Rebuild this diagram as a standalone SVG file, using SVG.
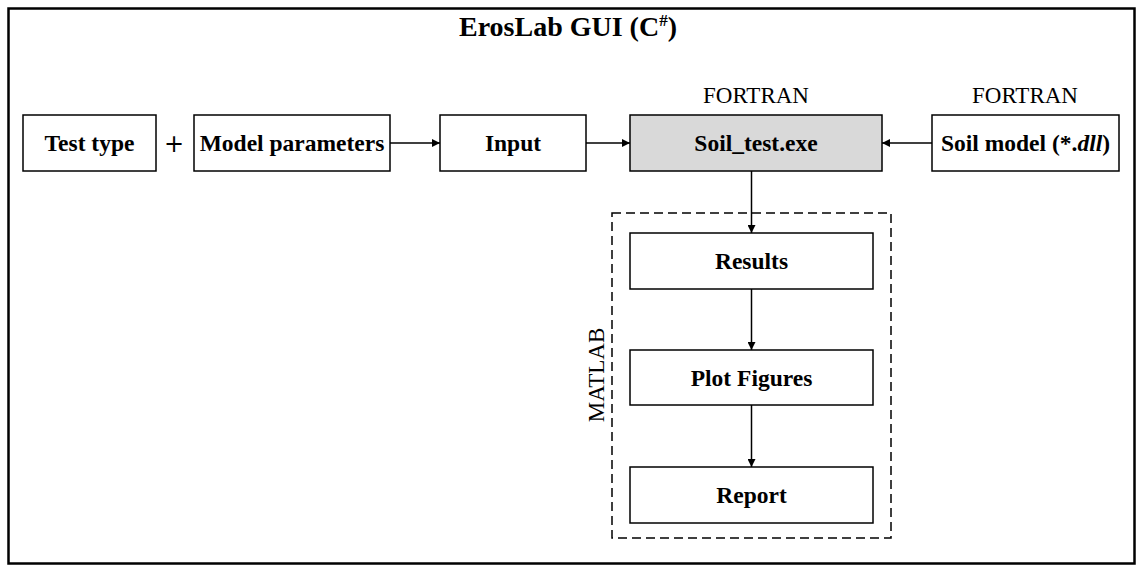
<svg xmlns="http://www.w3.org/2000/svg" width="1137" height="566" viewBox="0 0 1137 566">
<defs>
<style>
.box{fill:#ffffff;stroke:#000000;stroke-width:1.5}
.grey{fill:#d9d9d9}
.t{font-family:"Liberation Serif","Times New Roman",serif;font-weight:bold;font-size:23.5px;text-anchor:middle;fill:#000}
.r{font-family:"Liberation Serif","Times New Roman",serif;font-size:23px;text-anchor:middle;fill:#000}
.edge{stroke:#000;stroke-width:1.5;fill:none;marker-end:url(#arr)}
</style>
<marker id="arr" viewBox="0 0 10 10" refX="10" refY="5" markerWidth="9" markerHeight="8" markerUnits="userSpaceOnUse" orient="auto">
<path d="M0,0 L10,5 L0,10 z" fill="#000"/>
</marker>
</defs>
<rect x="0" y="0" width="1137" height="566" fill="#ffffff"/>
<rect id="frame" x="8.5" y="8.5" width="1126" height="555" fill="none" stroke="#000" stroke-width="2.5"/>
<text id="title" x="568" y="36" class="t" style="font-size:28px">ErosLab GUI (C<tspan dy="-10" style="font-size:17px">#</tspan><tspan dy="10">)</tspan></text>
<g id="matlab-group">
<rect x="612" y="213" width="279" height="325" fill="none" stroke="#000" stroke-width="1.5" stroke-dasharray="9,5"/>
<text x="604" y="375" class="r" transform="rotate(-90 604 375)">MATLAB</text>
</g>
<g id="test-type"><rect class="box" x="23" y="115" width="133" height="56"/><text class="t" x="89.5" y="151">Test type</text></g>
<g id="plus"><text x="174" y="152" style="font-family:'DejaVu Sans',sans-serif;font-size:24px;text-anchor:middle;fill:#000">+</text></g>
<g id="model-params"><rect class="box" x="194" y="115" width="196" height="56"/><text class="t" x="292" y="151">Model parameters</text></g>
<g id="input"><rect class="box" x="440" y="115" width="146" height="56"/><text class="t" x="513" y="151">Input</text></g>
<g id="soil-test"><text class="r" x="756" y="103">FORTRAN</text><rect class="box grey" x="630" y="115" width="252" height="56"/><text class="t" x="756" y="151">Soil_test.exe</text></g>
<g id="soil-model"><text class="r" x="1025" y="103">FORTRAN</text><rect class="box" x="932" y="115" width="187" height="56"/><text class="t" x="1025.5" y="151">Soil model (*.<tspan font-style="italic">dll</tspan>)</text></g>
<g id="results"><rect class="box" x="630" y="233" width="243" height="56"/><text class="t" x="751.5" y="269">Results</text></g>
<g id="plot-figures"><rect class="box" x="630" y="350" width="243" height="55"/><text class="t" x="751.5" y="386">Plot Figures</text></g>
<g id="report"><rect class="box" x="630" y="467" width="243" height="56"/><text class="t" x="751.5" y="503">Report</text></g>
<g id="connectors">
<line class="edge" x1="390" y1="143" x2="440" y2="143"/>
<line class="edge" x1="586" y1="143" x2="630" y2="143"/>
<line class="edge" x1="932" y1="143" x2="882" y2="143"/>
<line class="edge" x1="751.5" y1="171" x2="751.5" y2="233"/>
<line class="edge" x1="751.5" y1="289" x2="751.5" y2="350"/>
<line class="edge" x1="751.5" y1="405" x2="751.5" y2="467"/>
</g>
</svg>
